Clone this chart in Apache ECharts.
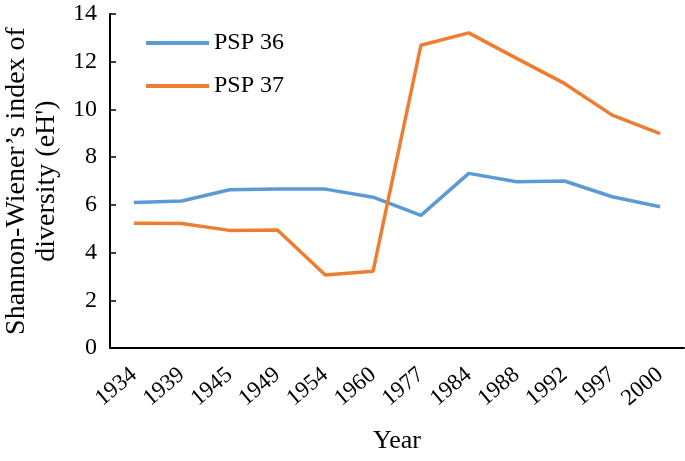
<!DOCTYPE html>
<html>
<head>
<meta charset="utf-8">
<script src="https://cdn.jsdelivr.net/npm/echarts@6/dist/echarts.min.js"></script>
<style>
  html, body { margin: 0; padding: 0; background: #fff; }
  #chart { width: 685px; height: 461px; }
</style>
</head>
<body>
<div id="chart"></div>
<script>
var years = ["1934", "1939", "1945", "1949", "1954", "1960", "1977", "1984", "1988", "1992", "1997", "2000"];
var psp36 = [6.10, 6.16, 6.63, 6.66, 6.66, 6.32, 5.56, 7.32, 6.97, 7.00, 6.34, 5.92];
var psp37 = [5.23, 5.22, 4.93, 4.95, 3.06, 3.22, 12.69, 13.21, 12.14, 11.09, 9.76, 8.99];

var font = "Liberation Serif";
var chart = echarts.init(document.getElementById("chart"));
var option = {
  animation: false,
  textStyle: { fontFamily: font },
  legend: {
    orient: "vertical",
    left: 141,
    top: 26,
    itemWidth: 63,
    itemHeight: 4,
    itemGap: 19,
    icon: "rect",
    textStyle: { fontFamily: font, fontSize: 24, color: "#000" },
    data: ["PSP 36", "PSP 37"]
  },
  grid: { left: 110, right: 1, top: 14, bottom: 113, outerBoundsMode: "none" },
  xAxis: {
    type: "category",
    data: years,
    boundaryGap: true,
    name: "Year",
    nameLocation: "middle",
    nameGap: 80,
    nameTextStyle: { fontFamily: font, fontSize: 26, color: "#000" },
    axisLine: { lineStyle: { color: "#000", width: 2 } },
    axisTick: { inside: true, length: 7, lineStyle: { color: "#000", width: 1.5 } },
    axisLabel: { rotate: 40, fontFamily: font, fontSize: 23, color: "#000", margin: 24 }
  },
  yAxis: {
    type: "value",
    min: 0,
    max: 14,
    interval: 2,
    name: "Shannon-Wiener\u2019s index of\ndiversity (eH')",
    nameLocation: "middle",
    nameGap: 45,
    nameTextStyle: { fontFamily: font, fontSize: 28, color: "#000", lineHeight: 30 },
    splitLine: { show: false },
    axisLine: { show: true, lineStyle: { color: "#000", width: 2 } },
    axisTick: { show: true, inside: true, length: 6, lineStyle: { color: "#000", width: 1.5 } },
    axisLabel: { fontFamily: font, fontSize: 24, color: "#000", margin: 13 }
  },
  series: [
    {
      name: "PSP 36",
      type: "line",
      data: psp36,
      symbol: "none",
      color: "#5b9bd5",
      lineStyle: { width: 3.5, color: "#5b9bd5" }
    },
    {
      name: "PSP 37",
      type: "line",
      data: psp37,
      symbol: "none",
      color: "#ed7d31",
      lineStyle: { width: 3.5, color: "#ed7d31" }
    }
  ]
};
chart.setOption(option);
</script>
</body>
</html>
